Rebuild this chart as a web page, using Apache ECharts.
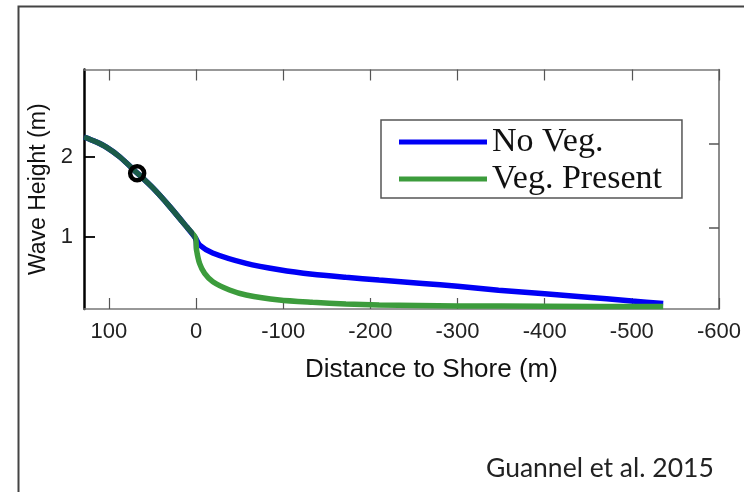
<!DOCTYPE html>
<html>
<head>
<meta charset="utf-8">
<script src="https://cdn.jsdelivr.net/npm/echarts@6/dist/echarts.min.js"></script>
<style>
html,body{margin:0;padding:0;background:#fff;}
#chart{width:744px;height:492px;}
</style>
</head>
<body>
<div id="chart"></div>
<script>
// Distance to shore (m) and wave height (m)
var distNoVeg = [128.6, 115, 102.6, 87.4, 67.6, 49.3, 30.2, 11.1, 0.8, -4, -19, -57.5, -95.6, -133.7, -171.9, -210, -260, -300, -347, -400, -442, -500, -536];
var heightNoVeg = [2.25, 2.19, 2.12, 2.00, 1.80, 1.61, 1.38, 1.13, 0.99, 0.90, 0.80, 0.67, 0.59, 0.534, 0.496, 0.4625, 0.42, 0.385, 0.335, 0.29, 0.254, 0.2, 0.17];

var distVeg = [128.6, 115, 102.6, 87.4, 67.6, 49.3, 30.2, 11.1, 0.8, -0.5, -4, -9.8, -19.3, -38.4, -57.5, -95.6, -133.7, -171.9, -210, -300, -400, -536];
var heightVeg = [2.25, 2.19, 2.12, 2.00, 1.80, 1.61, 1.38, 1.13, 0.99, 0.84, 0.67, 0.546, 0.441, 0.3375, 0.275, 0.2125, 0.184, 0.1625, 0.15, 0.138, 0.135, 0.13];

var markerPoint = [67.6, 1.796];
var sharedUntil = 0.6; // distance where the two curves split

var xTicks = [100, 0, -100, -200, -300, -400, -500, -600];
var yTicks = [1, 2];
var yTicksRight = [1.11, 2.16];

var seriesNames = ['No Veg.', 'Veg. Present'];

function pairs(xs, ys) { return xs.map(function (x, i) { return [x, ys[i]]; }); }

var BLUE = '#0000f5', GREEN = '#3c9c3c', SHARED = '#1b5b49';
var sansFont = 'Liberation Sans, Arial, sans-serif';

var chart = echarts.init(document.getElementById('chart'), null, {renderer: 'canvas'});
var option = {
  animation: false,
  backgroundColor: '#fff',
  grid: {left: 84, right: 23, top: 69.5, bottom: 183, containLabel: false},
  xAxis: [{
    type: 'value', inverse: true, min: -600, max: 128.6, position: 'bottom',
    axisLine: {show: true, onZero: false, lineStyle: {color: '#777', width: 1.5}},
    axisTick: {show: true, inside: true, length: 11, customValues: xTicks, lineStyle: {color: '#555', width: 1.2}},
    axisLabel: {customValues: xTicks, margin: 12, fontFamily: sansFont, fontSize: 22, color: '#222'},
    splitLine: {show: false}
  }, {
    type: 'value', inverse: true, min: -600, max: 128.6, position: 'top',
    axisLine: {show: true, onZero: false, lineStyle: {color: '#777', width: 1.5}},
    axisTick: {show: true, inside: true, length: 11, customValues: xTicks, lineStyle: {color: '#555', width: 1.2}},
    axisLabel: {show: false},
    splitLine: {show: false}
  }],
  yAxis: [{
    type: 'value', min: 0.1, max: 3.094, position: 'left',
    name: 'Wave Height (m)', nameLocation: 'middle', nameGap: 33,
    nameTextStyle: {fontFamily: sansFont, fontSize: 23, color: '#111'},
    axisLine: {show: true, onZero: false, lineStyle: {color: '#000', width: 2.5}},
    axisTick: {show: true, inside: true, length: 11, customValues: yTicks, lineStyle: {color: '#000', width: 1.8}},
    axisLabel: {customValues: yTicks, margin: 11, fontFamily: sansFont, fontSize: 22, color: '#222'},
    splitLine: {show: false}
  }, {
    type: 'value', min: 0.1, max: 3.094, position: 'right',
    axisLine: {show: true, onZero: false, lineStyle: {color: '#666', width: 1.5}},
    axisTick: {show: true, inside: true, length: 10, customValues: yTicksRight, lineStyle: {color: '#555', width: 1.5}},
    axisLabel: {show: false},
    splitLine: {show: false}
  }],
  legend: {
    show: true, orient: 'vertical', left: 381, top: 120,
    backgroundColor: '#fff', borderColor: '#555', borderWidth: 1.5,
    padding: [5, 20, 2, 18], itemGap: 3, itemWidth: 88, itemHeight: 5, itemTextGap: 8,
    textStyle: {fontFamily: 'Liberation Serif, DejaVu Serif, serif', fontSize: 34, color: '#111'},
    data: [
      {name: seriesNames[0], icon: 'rect', itemStyle: {color: BLUE}},
      {name: seriesNames[1], icon: 'rect', itemStyle: {color: GREEN}}
    ]
  },
  graphic: [
    {type: 'rect', left: 16, top: 4, shape: {width: 800, height: 600}, style: {fill: 'none', stroke: '#444', lineWidth: 2}, z: -10, silent: true},
    {type: 'text', left: 305, top: 357, style: {text: 'Distance to Shore (m)', fontFamily: sansFont, fontSize: 26, fill: '#111'}},
    {type: 'text', left: 486, top: 455, style: {text: 'Guannel et al. 2015', fontFamily: 'Lato, Open Sans, sans-serif', fontSize: 26.5, fill: '#222'}}
  ],
  series: [{
    name: seriesNames[0], type: 'line', xAxisIndex: 0, yAxisIndex: 0,
    data: pairs(distNoVeg, heightNoVeg), showSymbol: false, smooth: 0.25,
    lineStyle: {color: BLUE, width: 5.5}, itemStyle: {color: BLUE}
  }, {
    name: seriesNames[1], type: 'line', xAxisIndex: 0, yAxisIndex: 0,
    data: pairs(distVeg, heightVeg), showSymbol: false, smooth: 0.25,
    lineStyle: {color: GREEN, width: 5.5}, itemStyle: {color: GREEN}
  }, {
    name: 'marker', type: 'scatter', xAxisIndex: 0, yAxisIndex: 0,
    data: [markerPoint], symbol: 'circle', symbolSize: 14,
    itemStyle: {color: 'rgba(0,0,0,0)', borderColor: '#000', borderWidth: 4.5, opacity: 1}, z: 5
  }]
};
chart.setOption(option);

// colour the shared (overlapping) segment of the vegetation curve darker
var pxLeft = chart.convertToPixel({xAxisIndex: 0}, distVeg[0]);
var pxSplit = chart.convertToPixel({xAxisIndex: 0}, sharedUntil);
var pxRight = chart.convertToPixel({xAxisIndex: 0}, distVeg[distVeg.length - 1]);
var f = (pxSplit - pxLeft) / (pxRight - pxLeft);
chart.setOption({series: [{}, {
  lineStyle: {color: {
    type: 'linear', x: 0, y: 0, x2: 1, y2: 0,
    colorStops: [{offset: 0, color: SHARED}, {offset: f, color: SHARED}, {offset: f, color: GREEN}, {offset: 1, color: GREEN}]
  }}
}]});
</script>
</body>
</html>
